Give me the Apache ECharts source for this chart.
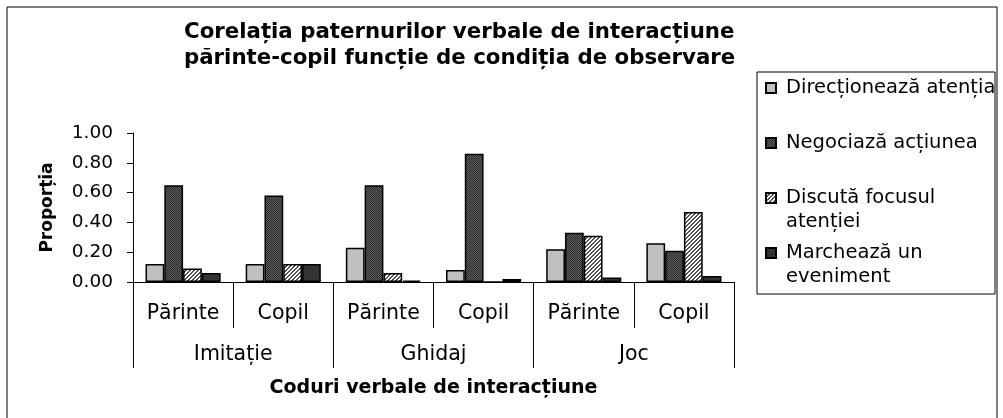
<!DOCTYPE html>
<html>
<head>
<meta charset="utf-8">
<script src="https://cdn.jsdelivr.net/npm/echarts@6/dist/echarts.min.js"></script>
<style>
html,body{margin:0;padding:0;background:#fff;}
#chart{width:1003px;height:418px;}
</style>
</head>
<body>
<div id="chart"></div>
<script>
var chart = echarts.init(document.getElementById('chart'));
var FONT = 'DejaVu Sans';

// date
var categories = ['Părinte', 'Copil', 'Părinte', 'Copil', 'Părinte', 'Copil'];
var conditions = ['Imitație', 'Ghidaj', 'Joc'];
var seriesNames = ['Direcționează atenția', 'Negociază acțiunea', 'Discută focusul atenției', 'Marchează un eveniment'];
var legendLines = [['Direcționează atenția', ''], ['Negociază acțiunea', ''], ['Discută focusul', 'atenției'], ['Marchează un', 'eveniment']];
var directioneaza = [0.12, 0.12, 0.23, 0.08, 0.22, 0.26];
var negociaza = [0.65, 0.58, 0.65, 0.86, 0.33, 0.21];
var discuta = [0.09, 0.12, 0.06, 0, 0.31, 0.47];
var marcheaza = [0.06, 0.12, 0.01, 0.02, 0.03, 0.04];
var yTicks = [0, 0.2, 0.4, 0.6, 0.8, 1.0];

// hasuri pentru bare
function pattern(kind) {
    var c = document.createElement('canvas');
    c.width = 4; c.height = 4;
    var ctx = c.getContext('2d');
    if (kind == 'dots') {
        ctx.fillStyle = '#5c5c5c';
        ctx.fillRect(0, 0, 4, 4);
        ctx.fillStyle = '#2c2c2c';
        ctx.fillRect(0, 0, 1, 1); ctx.fillRect(2, 0, 1, 1);
        ctx.fillRect(1, 1, 1, 1); ctx.fillRect(3, 1, 1, 1);
        ctx.fillRect(0, 2, 1, 1); ctx.fillRect(2, 2, 1, 1);
        ctx.fillRect(1, 3, 1, 1); ctx.fillRect(3, 3, 1, 1);
    } else {
        ctx.fillStyle = '#ffffff';
        ctx.fillRect(0, 0, 4, 4);
        ctx.fillStyle = '#555555';
        for (var i = 0; i < 4; i++) {
            ctx.fillRect(i, 3 - i, 1, 1);
            ctx.fillRect((i + 1) % 4, 3 - i, 1, 1);
        }
    }
    return { image: c, repeat: 'repeat' };
}

var fills = ['#c0c0c0', pattern('dots'), pattern('hatch'), '#333333'];
var values = [directioneaza, negociaza, discuta, marcheaza];

var series = [];
for (var i = 0; i < seriesNames.length; i++) {
    series.push({
        name: seriesNames[i],
        type: 'bar',
        xAxisIndex: 0,
        barGap: '0%',
        barCategoryGap: '25%',
        itemStyle: {
            color: fills[i],
            borderColor: '#000',
            borderWidth: 1.5
        },
        data: values[i]
    });
}

option = {
    animation: false,
    backgroundColor: '#fff',
    title: {
        text: 'Corelația paternurilor verbale de interacțiune\npărinte-copil funcție de condiția de observare',
        left: 184,
        top: 19,
        padding: 0,
        textStyle: {
            fontFamily: FONT,
            fontWeight: 'bold',
            fontSize: 21.3,
            lineHeight: 26,
            color: '#000'
        }
    },
    graphic: [{
        type: 'rect',
        shape: { x: 7, y: 7, width: 990, height: 430 },
        style: { fill: null, stroke: '#000', lineWidth: 1 },
        z: -10
    }, {
        type: 'rect',
        shape: { x: 757, y: 72, width: 238, height: 222 },
        style: { fill: '#fff', stroke: '#000', lineWidth: 1 },
        z: -5
    }],
    legend: {
        orient: 'vertical',
        left: 765,
        top: 52,
        padding: 0,
        itemWidth: 10,
        itemHeight: 10,
        itemGap: -17,
        icon: 'rect',
        selectedMode: false,
        data: seriesNames,
        formatter: function (name) {
            var l = legendLines[seriesNames.indexOf(name)];
            return '\n' + l[0] + '\n' + l[1];
        },
        textStyle: {
            fontFamily: FONT,
            fontSize: 19.5,
            lineHeight: 24,
            color: '#000',
            padding: [0, 0, 0, 5]
        }
    },
    grid: {
        left: 133,
        right: 269,
        top: 133,
        bottom: 136
    },
    xAxis: [{
        type: 'category',
        position: 'bottom',
        data: categories,
        axisLine: { show: true, lineStyle: { color: '#000', width: 1 } },
        axisTick: { show: true, length: 46, lineStyle: { color: '#000' } },
        axisLabel: {
            interval: 0,
            margin: 21,
            fontFamily: FONT,
            fontSize: 20.5,
            color: '#000'
        }
    }, {
        type: 'category',
        position: 'bottom',
        data: conditions,
        axisLine: { show: false },
        axisTick: { show: true, length: 86, lineStyle: { color: '#000' } },
        axisLabel: {
            interval: 0,
            margin: 62,
            fontFamily: FONT,
            fontSize: 20.5,
            color: '#000'
        },
        name: 'Coduri verbale de interacțiune',
        nameLocation: 'middle',
        nameGap: 97,
        nameTextStyle: {
            fontFamily: FONT,
            fontWeight: 'bold',
            fontSize: 19,
            color: '#000'
        }
    }],
    yAxis: {
        type: 'value',
        min: yTicks[0],
        max: yTicks[yTicks.length - 1],
        interval: 0.2,
        name: 'Proporția',
        nameLocation: 'middle',
        nameRotate: 90,
        nameGap: 77,
        nameTextStyle: {
            fontFamily: FONT,
            fontWeight: 'bold',
            fontSize: 17,
            color: '#000'
        },
        axisLine: { show: true, lineStyle: { color: '#000', width: 1 } },
        axisTick: { show: true, length: 6, lineStyle: { color: '#000' } },
        splitLine: { show: false },
        axisLabel: {
            margin: 20,
            fontFamily: FONT,
            fontSize: 18.5,
            color: '#000',
            formatter: function (v) { return v.toFixed(2); }
        }
    },
    series: series
};

chart.setOption(option);
</script>
</body>
</html>
